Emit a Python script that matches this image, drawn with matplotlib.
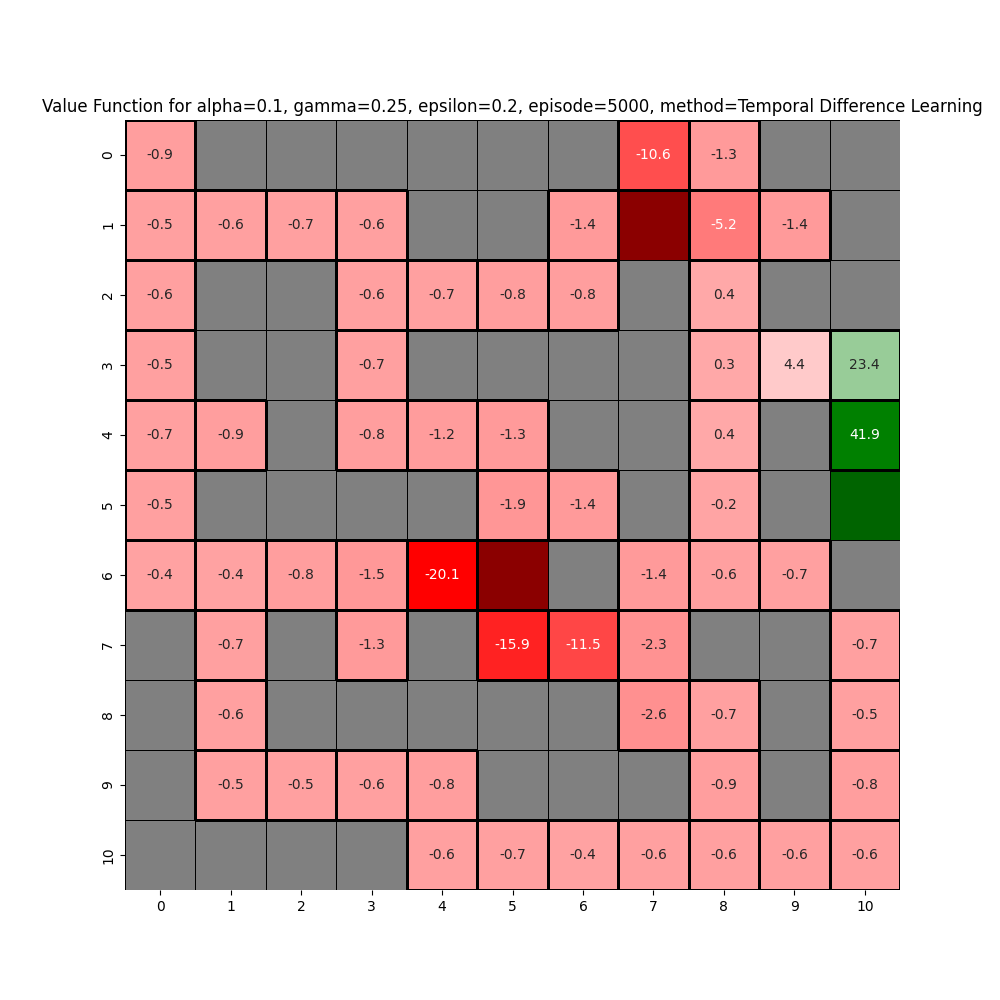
import numpy as np
import matplotlib
matplotlib.use("Agg")
import matplotlib.pyplot as plt
import seaborn as sns
from matplotlib.colors import LinearSegmentedColormap, ListedColormap

W = np.nan  # wall
T = np.nan  # trap / goal (drawn separately)

row_labels = list(range(11))
col_labels = list(range(11))

values = np.array([
    [-0.9, W, W, W, W, W, W, -10.6, -1.3, W, W],
    [-0.5, -0.6, -0.7, -0.6, W, W, -1.4, T, -5.2, -1.4, W],
    [-0.6, W, W, -0.6, -0.7, -0.8, -0.8, W, 0.4, W, W],
    [-0.5, W, W, -0.7, W, W, W, W, 0.3, 4.4, 23.4],
    [-0.7, -0.9, W, -0.8, -1.2, -1.3, W, W, 0.4, W, 41.9],
    [-0.5, W, W, W, W, -1.9, -1.4, W, -0.2, W, T],
    [-0.4, -0.4, -0.8, -1.5, -20.1, T, W, -1.4, -0.6, -0.7, W],
    [W, -0.7, W, -1.3, W, -15.9, -11.5, -2.3, W, W, -0.7],
    [W, -0.6, W, W, W, W, W, -2.6, -0.7, W, -0.5],
    [W, -0.5, -0.5, -0.6, -0.8, W, W, W, -0.9, W, -0.8],
    [W, W, W, W, -0.6, -0.7, -0.4, -0.6, -0.6, -0.6, -0.6],
])

# cell types: 0 = wall, 1 = trap, 2 = goal
trap_cells = [(1, 7), (6, 5)]
goal_cells = [(5, 10)]
kinds = np.zeros((11, 11))
for r, c in trap_cells:
    kinds[r, c] = 1
for r, c in goal_cells:
    kinds[r, c] = 2

fig, ax = plt.subplots(figsize=(10, 10), dpi=100)

kind_cmap = ListedColormap(["#808080", "#8b0000", "#006400"])
sns.heatmap(kinds, cmap=kind_cmap, vmin=-0.5, vmax=2.5, cbar=False,
            linewidths=0.5, linecolor="black", ax=ax,
            xticklabels=col_labels, yticklabels=row_labels)

val_cmap = LinearSegmentedColormap.from_list("rwg", ["red", "white", "green"])
mask = np.isnan(values)
sns.heatmap(values, mask=mask, cmap=val_cmap, annot=True, fmt=".1f",
            cbar=False, linewidths=1, linecolor="black", ax=ax,
            xticklabels=col_labels, yticklabels=row_labels)

# only the value cells get the thick black outline
mesh = ax.collections[-1]
edge = np.zeros((mask.size, 4))
edge[~mask.ravel(), 3] = 1.0
mesh.set_edgecolor(edge)

ax.set_title("Value Function for alpha=0.1, gamma=0.25, epsilon=0.2, episode=5000, "
             "method=Temporal Difference Learning")
fig.savefig("out.png", dpi=100)
